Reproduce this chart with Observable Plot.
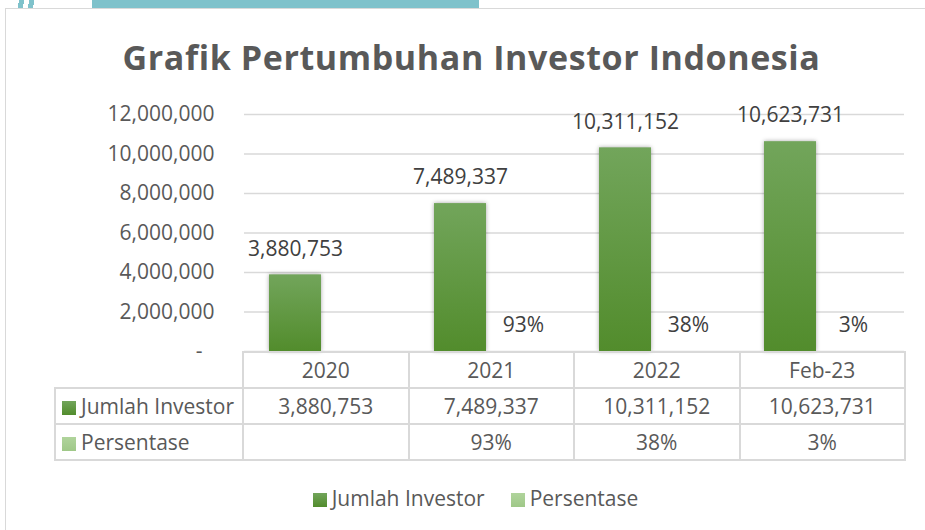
<!DOCTYPE html>
<html>
<head>
<meta charset="utf-8">
<script src="https://cdn.jsdelivr.net/npm/d3@7"></script>
<script src="https://cdn.jsdelivr.net/npm/@observablehq/plot@0.6"></script>
<style>
  html, body { margin: 0; padding: 0; background: #fff; overflow: hidden; }
  #wrap { position: relative; width: 925px; height: 530px; font-family: "Open Sans", sans-serif; color: #595959; overflow: hidden; }
  #frame { position: absolute; left: 5px; top: 8px; width: 960px; height: 560px; border: 1.5px solid #d9d9d9; box-sizing: border-box; }
  #band { position: absolute; left: 92px; top: 0; width: 387px; height: 8px; background: #7fc2cb; }
  #band2 { position: absolute; left: 14px; top: 0; width: 24px; height: 8px; background: linear-gradient(100deg, transparent 0 20%, #7fc2cb 20% 40%, transparent 40% 60%, #7fc2cb 60% 80%, transparent 80%); }
  #title { position: absolute; left: 0; width: 943px; top: 34px; text-align: center; font-weight: 700; font-size: 34px; letter-spacing: 0.6px; line-height: 46px; color: #595959; }
  #chart { position: absolute; left: 0; top: 0; }
  #chart g[aria-label="bar"] rect { filter: drop-shadow(0 0 2px rgba(0,0,0,0.35)); }
  table { position: absolute; left: 54px; top: 351px; border-collapse: collapse; table-layout: fixed; font-size: 21px; color: #595959; }
  td { border: 2px solid #d9d9d9; height: 34px; padding: 0; text-align: center; white-space: nowrap; }
  td.lab { text-align: left; padding-left: 6px; }
  td.blank { border-top: none; border-left: none; }
  .sw { display: inline-block; width: 14px; height: 14px; margin-right: 5px; vertical-align: -1px; }
  #legend { position: absolute; left: 0; width: 951px; top: 484px; text-align: center; font-size: 21px; }
  #legend span.item { margin: 0 13px; }
</style>
</head>
<body>
<svg width="0" height="0" style="position:absolute">
  <defs>
    <linearGradient id="gInv" x1="0" y1="0" x2="0" y2="1">
      <stop offset="0" stop-color="#72a55b"/>
      <stop offset="1" stop-color="#528c2c"/>
    </linearGradient>
  </defs>
</svg>
<div id="wrap">
  <div id="band"></div>
  <div id="band2"></div>
  <div id="frame"></div>
  <div id="title"></div>
  <div id="chart"></div>
  <table id="tbl"></table>
  <div id="legend"></div>
</div>
<script>
// ---- data ----
const title = "Grafik Pertumbuhan Investor Indonesia";
const categories = ["2020", "2021", "2022", "Feb-23"];
const seriesNames = ["Jumlah Investor", "Persentase"];
const investors = [3880753, 7489337, 10311152, 10623731];
const percentages = [null, 0.93, 0.38, 0.03];
const percentLabels = ["", "93%", "38%", "3%"];
const yTicks = [0, 2000000, 4000000, 6000000, 8000000, 10000000, 12000000];
const seriesColors = ["url(#gInv)", "#a9cf94"];
const swatchColors = ["linear-gradient(#72a55b,#528c2c)", "linear-gradient(#b0d49c,#9fc888)"];

const fmt = d3.format(",");
const invRows = categories.map((c, i) => ({cat: c, series: seriesNames[0], value: investors[i], label: fmt(investors[i])}));
const pctRows = categories.map((c, i) => ({cat: c, series: seriesNames[1], value: percentages[i], label: percentLabels[i]}));
const labelRows = invRows.concat(pctRows.map(d => ({...d, value: d.value == null ? 0 : d.value})));

document.getElementById("title").textContent = title;

const chart = Plot.plot({
  width: 925,
  height: 352,
  marginLeft: 243,
  marginRight: 20,
  marginTop: 114,
  marginBottom: 1,
  fx: {domain: categories, padding: 0, axis: null},
  x: {domain: seriesNames, paddingInner: 11 / 63, paddingOuter: 25 / 63, axis: null},
  y: {domain: [0, 12000000], axis: null},
  style: {fontFamily: "Open Sans", fontSize: "21px", color: "#595959", background: "transparent", overflow: "visible"},
  marks: [
    Plot.gridY(yTicks, {stroke: "#d9d9d9", strokeOpacity: 1, strokeWidth: 1.5}),
    Plot.axisY(yTicks, {tickSize: 0, tickPadding: 30, fontSize: 21, fill: "#595959", label: null,
      tickFormat: d => d === 0 ? "-\u2007" : fmt(d)}),
    Plot.barY(invRows, {fx: "cat", x: "series", y: "value", fill: seriesColors[0]}),
    Plot.barY(pctRows.filter(d => d.value != null), {fx: "cat", x: "series", y: "value", fill: seriesColors[1]}),
    Plot.text(labelRows, {fx: "cat", x: "series", y: "value", text: "label", dy: -26, fontSize: 21, fill: "#404040"})
  ]
});
document.getElementById("chart").appendChild(chart);

// ---- data table ----
const tbl = document.getElementById("tbl");
const colW = [188, 165.5, 165.5, 165.5, 165.5];
const cg = document.createElement("colgroup");
colW.forEach(w => { const c = document.createElement("col"); c.style.width = w + "px"; cg.appendChild(c); });
tbl.appendChild(cg);
tbl.style.width = d3.sum(colW) + "px";
function addRow(cells, first) {
  const tr = document.createElement("tr");
  cells.forEach((v, j) => {
    const td = document.createElement("td");
    if (j === 0) {
      if (first) td.className = "blank";
      else {
        td.className = "lab";
        const sw = document.createElement("span");
        sw.className = "sw";
        sw.style.background = swatchColors[v.idx];
        td.appendChild(sw);
        td.appendChild(document.createTextNode(v.name));
      }
    } else td.textContent = v;
    tr.appendChild(td);
  });
  tbl.appendChild(tr);
}
addRow([""].concat(categories), true);
addRow([{name: seriesNames[0], idx: 0}].concat(investors.map(fmt)), false);
addRow([{name: seriesNames[1], idx: 1}].concat(percentLabels), false);

// ---- legend ----
const lg = document.getElementById("legend");
seriesNames.forEach((n, i) => {
  const it = document.createElement("span");
  it.className = "item";
  const sw = document.createElement("span");
  sw.className = "sw";
  sw.style.background = swatchColors[i];
  it.appendChild(sw);
  it.appendChild(document.createTextNode(n));
  lg.appendChild(it);
});
</script>
</body>
</html>
